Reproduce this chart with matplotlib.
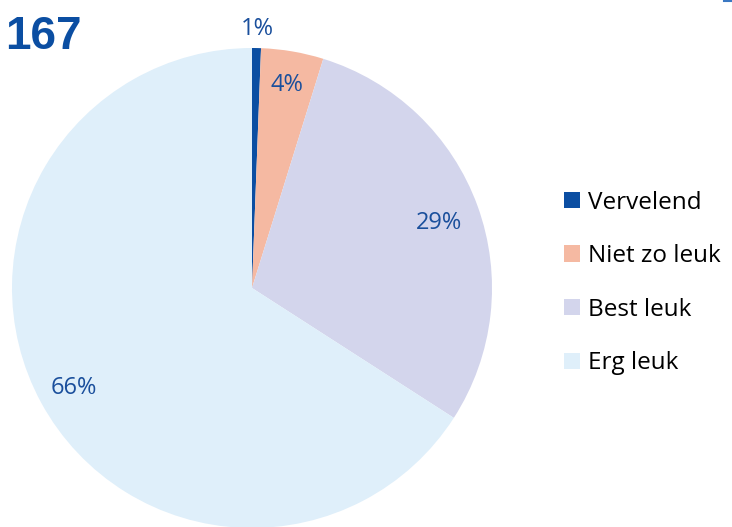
import matplotlib
matplotlib.use("Agg")
import matplotlib.pyplot as plt
import numpy as np

labels = ["Vervelend", "Niet zo leuk", "Best leuk", "Erg leuk"]
values = [0.6, 4.2, 29.3, 65.9]
pct_labels = ["1%", "4%", "29%", "66%"]
colors = ["#0B4EA2", "#F5B9A2", "#D3D5EC", "#DFEFFA"]
title_num = "167"

W, H = 732, 527
fig = plt.figure(figsize=(W / 100, H / 100), dpi=100)
ax = fig.add_axes([0, 0, 1, 1])

cx, cy, r = 252, H - 288, 240
wedges, _ = ax.pie(values, colors=colors, startangle=90, counterclock=False,
                   center=(cx, cy), radius=r, frame=True,
                   wedgeprops=dict(linewidth=0))
ax.set_xlim(0, W)
ax.set_ylim(0, H)
ax.set_aspect("equal")
ax.axis("off")

# percentage labels
dists = [1.09, 0.87, 0.83, 0.845]
for w, txt, d in zip(wedges, pct_labels, dists):
    ang = np.deg2rad((w.theta1 + w.theta2) / 2)
    x = cx + d * r * np.cos(ang)
    y = cy + d * r * np.sin(ang)
    ax.text(x, y, txt, ha="center", va="center_baseline", color="#1A4F9C",
            fontsize=17, family=["Open Sans", "DejaVu Sans"])

fig.text(5 / W, 1 - 37 / H, title_num, ha="left", va="center",
         fontsize=33, fontweight="bold", color="#0B4EA2",
         family=["Liberation Sans", "DejaVu Sans"])

leg = fig.legend(wedges, labels, loc="center left",
                 bbox_to_anchor=(564 / W, 1 - 283 / H),
                 frameon=False, borderpad=0, borderaxespad=0,
                 handlelength=0.66, handleheight=0.66, handletextpad=0.33,
                 labelspacing=1.22,
                 prop=dict(family=["Open Sans", "DejaVu Sans"], size=17.5))

# small blue mark in the top right corner
fig.add_artist(plt.Line2D([724 / W, 1], [1 - 0.5 / H, 1 - 0.5 / H],
                          transform=fig.transFigure, color="#3A78C2", lw=1.5))

fig.savefig("out.png", dpi=100)
